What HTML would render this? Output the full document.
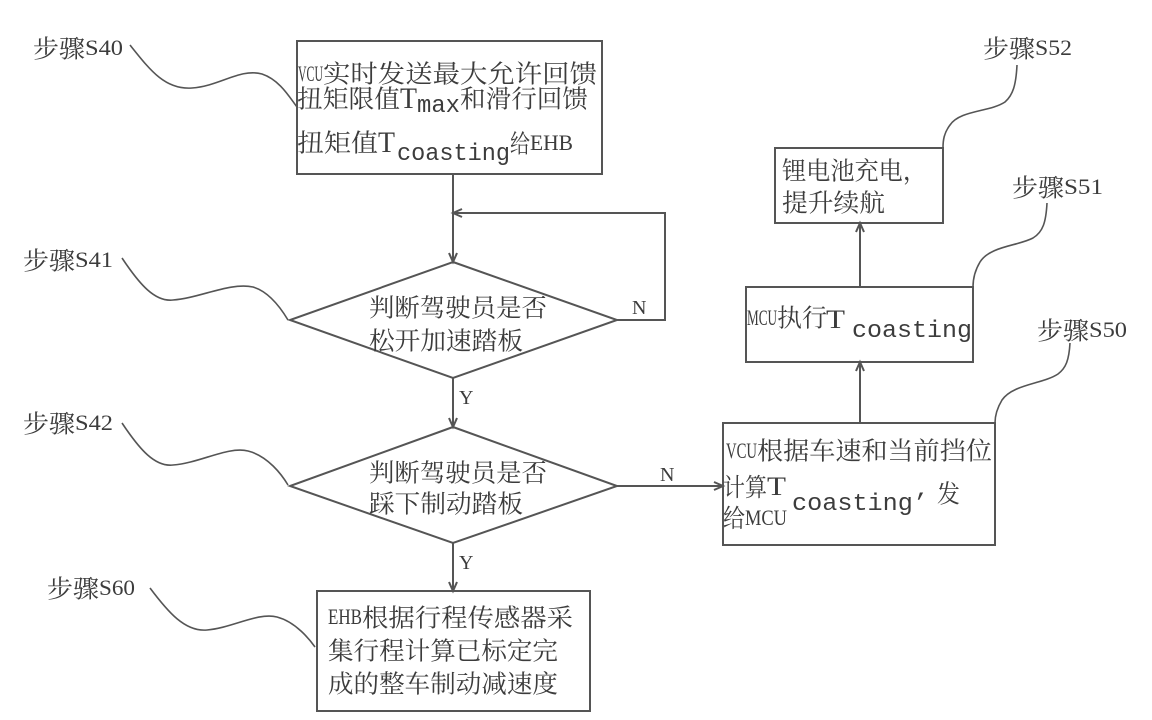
<!DOCTYPE html>
<html>
<head>
<meta charset="utf-8">
<style>
html,body{margin:0;padding:0;background:#fff;}
svg{display:block;}
.c{font-family:"Liberation Serif","Noto Serif CJK SC",serif;font-size:25px;fill:#3c3c3c;}
.l{font-family:"Liberation Serif","Noto Serif CJK SC",serif;font-size:22px;fill:#3c3c3c;}
.t{font-family:"Liberation Serif",serif;font-size:30px;fill:#3c3c3c;}
.t2{font-family:"Liberation Serif",serif;font-size:26px;fill:#3c3c3c;}
.m{font-family:"Liberation Mono",monospace;font-size:24px;fill:#3c3c3c;}
.n{font-family:"Liberation Serif",serif;font-size:20px;fill:#3c3c3c;}
.s{fill:none;stroke:#555;stroke-width:2;}
.w{fill:none;stroke:#555;stroke-width:1.6;}
</style>
</head>
<body>
<svg width="1152" height="720" viewBox="0 0 1152 720" xmlns="http://www.w3.org/2000/svg">
<rect x="0" y="0" width="1152" height="720" fill="#fff"/>

<!-- Boxes -->
<rect class="s" x="297" y="41" width="305" height="133"/>
<polygon class="s" points="453,262 617,320 453,378 290,320"/>
<polygon class="s" points="453,427 617,486 453,543 290,486"/>
<rect class="s" x="317" y="591" width="273" height="120"/>
<rect class="s" x="723" y="423" width="272" height="122"/>
<rect class="s" x="746" y="287" width="227" height="75"/>
<rect class="s" x="775" y="148" width="168" height="75"/>

<!-- Connectors -->
<line class="s" x1="453" y1="174" x2="453" y2="262"/>
<polyline class="s" points="449,253 453,262 457,253"/>
<polyline class="s" points="617,320 665,320 665,213 453,213"/>
<polyline class="s" points="462,209 453,213 462,217"/>
<line class="s" x1="453" y1="378" x2="453" y2="427"/>
<polyline class="s" points="449,418 453,427 457,418"/>
<line class="s" x1="453" y1="543" x2="453" y2="591"/>
<polyline class="s" points="449,582 453,591 457,582"/>
<line class="s" x1="617" y1="486" x2="723" y2="486"/>
<polyline class="s" points="714,482 723,486 714,490"/>
<line class="s" x1="860" y1="423" x2="860" y2="362"/>
<polyline class="s" points="856,371 860,362 864,371"/>
<line class="s" x1="860" y1="287" x2="860" y2="223"/>
<polyline class="s" points="856,232 860,223 864,232"/>

<!-- Leader curves -->
<path class="w" d="M130,45 C150,70 165,90 192,88 C220,86 240,68 262,74 C280,80 290,98 297,107"/>
<path class="w" d="M122,258 C140,285 155,302 173,300 C200,298 230,282 253,287 C270,292 282,310 288,320"/>
<path class="w" d="M122,423 C140,450 155,467 173,465 C200,463 228,446 248,451 C268,456 282,475 288,485"/>
<path class="w" d="M150,588 C168,612 185,632 207,630 C232,628 258,612 277,617 C296,622 310,640 315,647"/>
<path class="w" d="M1017,65 C1016,85 1013,95 1005,102 C990,112 960,110 950,125 C944,133 943,140 943,148"/>
<path class="w" d="M1047,203 C1046,222 1043,232 1033,238 C1018,246 990,246 980,262 C974,272 973,280 973,287"/>
<path class="w" d="M1070,343 C1069,360 1066,368 1058,374 C1043,384 1013,384 1002,400 C996,410 995,417 995,423"/>

<!-- Step labels -->
<text class="c" x="33" y="57.5" textLength="52" lengthAdjust="spacingAndGlyphs">步骤</text>
<text class="l" x="85" y="55" textLength="38" lengthAdjust="spacingAndGlyphs">S40</text>
<text class="c" x="23" y="269.5" textLength="52" lengthAdjust="spacingAndGlyphs">步骤</text>
<text class="l" x="75" y="267" textLength="38" lengthAdjust="spacingAndGlyphs">S41</text>
<text class="c" x="23" y="432.5" textLength="52" lengthAdjust="spacingAndGlyphs">步骤</text>
<text class="l" x="75" y="430" textLength="38" lengthAdjust="spacingAndGlyphs">S42</text>
<text class="c" x="47" y="597.5" textLength="52" lengthAdjust="spacingAndGlyphs">步骤</text>
<text class="l" x="99" y="595" textLength="36" lengthAdjust="spacingAndGlyphs">S60</text>
<text class="c" x="983" y="57.5" textLength="52" lengthAdjust="spacingAndGlyphs">步骤</text>
<text class="l" x="1035" y="55" textLength="37" lengthAdjust="spacingAndGlyphs">S52</text>
<text class="c" x="1012" y="196.5" textLength="52" lengthAdjust="spacingAndGlyphs">步骤</text>
<text class="l" x="1064" y="194" textLength="39" lengthAdjust="spacingAndGlyphs">S51</text>
<text class="c" x="1037" y="339.5" textLength="52" lengthAdjust="spacingAndGlyphs">步骤</text>
<text class="l" x="1089" y="337" textLength="38" lengthAdjust="spacingAndGlyphs">S50</text>

<!-- Top box text -->
<text class="l" x="298" y="81" textLength="25" lengthAdjust="spacingAndGlyphs">VCU</text>
<text class="c" x="323" y="82.5" textLength="274" lengthAdjust="spacingAndGlyphs">实时发送最大允许回馈</text>
<text class="c" x="297" y="107.5" textLength="103" lengthAdjust="spacingAndGlyphs">扭矩限值</text>
<text class="t" x="400" y="108" textLength="17" lengthAdjust="spacingAndGlyphs">T</text>
<text class="m" x="417" y="112" textLength="43" lengthAdjust="spacingAndGlyphs">max</text>
<text class="c" x="460" y="107.5" textLength="128" lengthAdjust="spacingAndGlyphs">和滑行回馈</text>
<text class="c" x="297" y="151.5" textLength="81" lengthAdjust="spacingAndGlyphs">扭矩值</text>
<text class="t" x="378" y="152" textLength="17" lengthAdjust="spacingAndGlyphs">T</text>
<text class="m" x="397" y="160" textLength="113" lengthAdjust="spacingAndGlyphs">coasting</text>
<text class="c" x="510" y="152.5" textLength="20" lengthAdjust="spacingAndGlyphs">给</text>
<text class="l" x="530" y="150" textLength="43" lengthAdjust="spacingAndGlyphs">EHB</text>

<!-- Diamond 1 -->
<text class="c" x="369" y="316.5" textLength="178" lengthAdjust="spacingAndGlyphs">判断驾驶员是否</text>
<text class="c" x="369" y="349.5" textLength="154" lengthAdjust="spacingAndGlyphs">松开加速踏板</text>
<!-- Diamond 2 -->
<text class="c" x="369" y="481.5" textLength="178" lengthAdjust="spacingAndGlyphs">判断驾驶员是否</text>
<text class="c" x="369" y="512.5" textLength="154" lengthAdjust="spacingAndGlyphs">踩下制动踏板</text>

<!-- Y / N -->
<text class="n" x="632" y="314">N</text>
<text class="n" x="660" y="481">N</text>
<text class="n" x="459" y="404">Y</text>
<text class="n" x="459" y="569">Y</text>

<!-- S60 box -->
<text class="l" x="328" y="624" textLength="34" lengthAdjust="spacingAndGlyphs">EHB</text>
<text class="c" x="362" y="626.5" textLength="211" lengthAdjust="spacingAndGlyphs">根据行程传感器采</text>
<text class="c" x="328" y="659.5" textLength="230" lengthAdjust="spacingAndGlyphs">集行程计算已标定完</text>
<text class="c" x="328" y="692.5" textLength="230" lengthAdjust="spacingAndGlyphs">成的整车制动减速度</text>

<!-- S52 box -->
<text class="c" x="782" y="179.5" textLength="145" lengthAdjust="spacingAndGlyphs">锂电池充电，</text>
<text class="c" x="782" y="211.5" textLength="103" lengthAdjust="spacingAndGlyphs">提升续航</text>

<!-- S51 box -->
<text class="l" x="747" y="325" textLength="30" lengthAdjust="spacingAndGlyphs">MCU</text>
<text class="c" x="777" y="326.5" textLength="50" lengthAdjust="spacingAndGlyphs">执行</text>
<text class="t2" x="826" y="328" textLength="19" lengthAdjust="spacingAndGlyphs">T</text>
<text class="m" x="852" y="337" textLength="120" lengthAdjust="spacingAndGlyphs">coasting</text>

<!-- S50 box -->
<text class="l" x="726" y="458" textLength="31" lengthAdjust="spacingAndGlyphs">VCU</text>
<text class="c" x="757" y="459.5" textLength="235" lengthAdjust="spacingAndGlyphs">根据车速和当前挡位</text>
<text class="c" x="723" y="496" textLength="44" lengthAdjust="spacingAndGlyphs">计算</text>
<text class="t2" x="767" y="495" textLength="19" lengthAdjust="spacingAndGlyphs">T</text>
<text class="m" x="792" y="510" textLength="136" lengthAdjust="spacingAndGlyphs">coasting’</text>
<text class="c" x="937" y="502.5" textLength="23" lengthAdjust="spacingAndGlyphs">发</text>
<text class="c" x="723" y="527" textLength="22" lengthAdjust="spacingAndGlyphs">给</text>
<text class="l" x="745" y="525" textLength="42" lengthAdjust="spacingAndGlyphs">MCU</text>
</svg>
</body>
</html>
